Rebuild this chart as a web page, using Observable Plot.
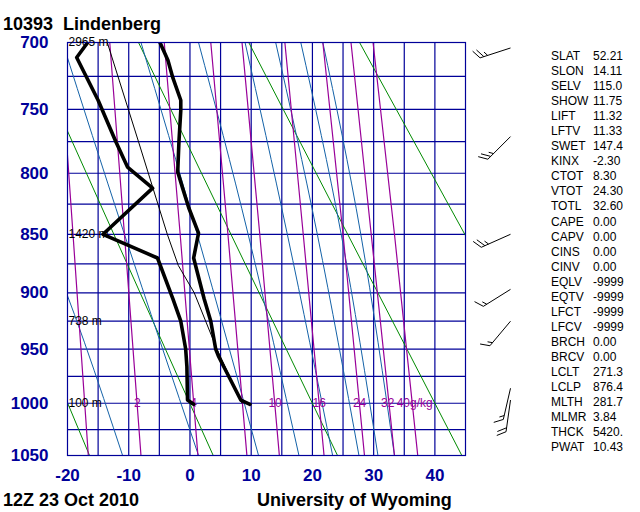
<!DOCTYPE html>
<html><head><meta charset="utf-8">
<script src="https://cdn.jsdelivr.net/npm/d3@7"></script>
<script src="https://cdn.jsdelivr.net/npm/@observablehq/plot@0.6"></script>
<style>
body{margin:0;background:#fff;}
#wrap{position:relative;width:640px;height:512px;overflow:hidden;font-family:"Liberation Sans",Arial,sans-serif;}
#wrap svg{position:absolute;left:0;top:0;}
.t{position:absolute;white-space:pre;font-weight:bold;color:#000;font-size:18px;line-height:18px;}
.idx{position:absolute;font-size:12px;line-height:15.04px;white-space:pre;color:#000;}
</style></head><body><div id="wrap"></div>
<script>
// ---------- data ----------
const stationTitle = "10393  Lindenberg";
const dateLabel = "12Z 23 Oct 2010";
const sourceLabel = "University of Wyoming";

const pressureTicks = [700, 750, 800, 850, 900, 950, 1000, 1050];
const tempTicks = [-20, -10, 0, 10, 20, 30, 40];

// observed temperature profile
const tempP = [1001, 997, 957, 950, 925, 905, 870, 849, 828, 812, 799, 775, 751, 743, 726, 713, 700];
const tempT = [9.8, 8.3, 4.7, 4.2, 3.4, 2.3, 0.6, 1.4, -0.2, -1.2, -2.0, -1.8, -1.5, -1.5, -2.8, -3.6, -4.9];
// observed dew point profile
const dewP = [1001, 997, 966, 950, 925, 905, 870, 850, 812, 795, 775, 743, 711, 700];
const dewT = [0.6, -0.4, -0.5, -0.7, -1.5, -2.8, -5.3, -14.2, -6.1, -10.2, -12.1, -15.0, -18.5, -16.7];
// lifted parcel path
const parcelP = [1000, 950, 900, 876.4, 850, 775, 700];
const parcelT = [8.5, 4.4, 0.7, -1.9, -3.7, -8.4, -13.5];

// geopotential height labels
const heightP = [700, 850, 925, 1000];
const heightText = ["2965 m", "1420 m", "738 m", "100 m"];

// dry adiabats (theta at 1000 hPa, degC) : T at 1050 and 700 hPa
const dryTheta = [-20, 0, 20, 40, 60];
const dryT1050 = [-16.4, 3.8, 24.1, 44.4, 64.7];
const dryT700 = [-44.6, -26.5, -8.4, 9.6, 27.7];

// saturated adiabats (theta-e, K) : T at 1050, 850, 700 hPa
const moistThetaE = [260, 280, 300, 320, 340, 360, 380, 400];
const moistT1050 = [-11.0, 1.4, 11.2, 17.8, 23.3, 27.6, 30.7, 33.4];
const moistT850 = [-24.0, -10.7, 1.2, 9.5, 15.9, 20.8, 24.7, 27.9];
const moistT700 = [-39.7, -20.8, -8.0, 1.4, 9.0, 14.0, 18.1, 21.7];

// mixing ratio lines (g/kg) : T at 1050, 850, 700 hPa
const mixRatio = [1, 2, 4, 7, 10, 16, 24, 32, 40];
const mixT1050 = [-16.6, -8.0, 1.3, 9.3, 14.6, 21.9, 28.5, 33.4, 37.2];
const mixT850 = [-19.1, -10.7, -1.6, 6.2, 11.4, 18.5, 25.0, 29.6, 33.4];
const mixT700 = [-21.3, -13.1, -4.2, 3.4, 8.5, 15.5, 21.7, 26.3, 29.9];
const mixLabelText = ["2", "4", "10", "16", "24", "32", "40g/kg"];
const mixLabelT = [-8.6, 0.6, 13.9, 21.1, 27.7, 32.3, 36.7];

// winds: pressure, direction (deg), speed (kt)
const windP = [704, 771, 850, 897, 925, 986, 997];
const windDir = [252, 225, 246, 238, 220, 193, 188];
const windSpd = [25, 25, 25, 15, 15, 15, 20];

// stability indices
const indexNames = ["SLAT","SLON","SELV","SHOW","LIFT","LFTV","SWET","KINX","CTOT","VTOT","TOTL","CAPE","CAPV","CINS","CINV","EQLV","EQTV","LFCT","LFCV","BRCH","BRCV","LCLT","LCLP","MLTH","MLMR","THCK","PWAT"];
const indexValues = ["52.21","14.11","115.0","11.75","11.32","11.33","147.4","-2.30","8.30","24.30","32.60","0.00","0.00","0.00","0.00","-9999","-9999","-9999","-9999","0.00","0.00","271.3","876.4","281.7","3.84","5420.","10.43"];

// ---------- build ----------
const navy = "#000099", blue = "#1462a8", green = "#008a00", purple = "#990099";
const xDef = {domain: [-20, 45], range: [67, 465]};
const yDef = {type: "pow", exponent: 0.286, domain: [700, 1050], range: [42, 455]};
const xs = Plot.scale({x: xDef});
const ys = Plot.scale({y: yDef});

const tempData = tempP.map((p, i) => ({p, t: tempT[i]}));
const dewData = dewP.map((p, i) => ({p, t: dewT[i]}));
const parcelData = parcelP.map((p, i) => ({p, t: parcelT[i]}));
const dryData = dryTheta.flatMap((id, i) => [{id, p: 1050, t: dryT1050[i]}, {id, p: 700, t: dryT700[i]}]);
const moistData = moistThetaE.flatMap((id, i) => [{id, p: 1050, t: moistT1050[i]}, {id, p: 850, t: moistT850[i]}, {id, p: 700, t: moistT700[i]}]);
const mixData = mixRatio.flatMap((id, i) => [{id, p: 1050, t: mixT1050[i]}, {id, p: 850, t: mixT850[i]}, {id, p: 700, t: mixT700[i]}]);
const mixLabels = mixLabelText.map((s, i) => ({s, t: mixLabelT[i], p: 1000}));
const heightLabels = heightP.map((p, i) => ({p, s: heightText[i]}));

// wind barbs: geometry in pixels, mapped back through the scales
const barbX = 510, barbLen = 32, featherLen = 10, featherGap = 4;
const barbSegs = [];
windP.forEach((p, i) => {
  const r = windDir[i] * Math.PI / 180;
  const ux = Math.sin(r), uy = -Math.cos(r);
  const nx = -uy, ny = ux;
  const fx = 0.5 * ux + 0.866 * nx, fy = 0.5 * uy + 0.866 * ny;
  const sx = barbX, sy = ys.apply(p);
  const tx = sx + barbLen * ux, ty = sy + barbLen * uy;
  const seg = (x1, y1, x2, y2) => barbSegs.push({x1: xs.invert(x1), y1: ys.invert(y1), x2: xs.invert(x2), y2: ys.invert(y2)});
  seg(sx, sy, tx, ty);
  const full = Math.floor(windSpd[i] / 10);
  const half = (windSpd[i] - full * 10) >= 5 ? 1 : 0;
  let k = 0;
  for (let j = 0; j < full; j++, k++) {
    const px = tx - k * featherGap * ux, py = ty - k * featherGap * uy;
    seg(px, py, px + featherLen * fx, py + featherLen * fy);
  }
  if (half) {
    if (k === 0) k = 1;
    const px = tx - k * featherGap * ux, py = ty - k * featherGap * uy;
    seg(px, py, px + featherLen / 2 * fx, py + featherLen / 2 * fy);
  }
});

const xGrid = d3.range(-15, 45, 5);
const yGrid = d3.range(725, 1050, 25);

const chart = Plot.plot({
  width: 640, height: 512,
  marginLeft: 67, marginRight: 175, marginTop: 42, marginBottom: 57,
  x: xDef, y: yDef,
  style: {fontFamily: "Liberation Sans, Arial, sans-serif", background: "white", overflow: "visible"},
  marks: [
    Plot.gridX(xGrid, {stroke: navy, strokeOpacity: 1, strokeWidth: 1.2}),
    Plot.gridY(yGrid, {stroke: navy, strokeOpacity: 1, strokeWidth: 1.2}),
    Plot.line(dryData, {x: "t", y: "p", z: "id", stroke: green, strokeWidth: 1, clip: true}),
    Plot.line(moistData, {x: "t", y: "p", z: "id", stroke: blue, strokeWidth: 1, curve: "natural", clip: true}),
    Plot.line(mixData, {x: "t", y: "p", z: "id", stroke: purple, strokeWidth: 1.2, curve: "natural", clip: true}),
    Plot.text(mixLabels, {x: "t", y: "p", text: "s", fill: purple, fontSize: 12}),
    Plot.line(parcelData, {x: "t", y: "p", stroke: "black", strokeWidth: 1, clip: true}),
    Plot.line(tempData, {x: "t", y: "p", stroke: "black", strokeWidth: 3.6, clip: true}),
    Plot.line(dewData, {x: "t", y: "p", stroke: "black", strokeWidth: 3.6, clip: true}),
    Plot.frame({stroke: navy, strokeWidth: 1.2}),
    Plot.text(heightLabels, {y: "p", text: "s", frameAnchor: "left", textAnchor: "start", dx: 1, fontSize: 12, fill: "black"}),
    Plot.link(barbSegs, {x1: "x1", y1: "y1", x2: "x2", y2: "y2", stroke: "black", strokeWidth: 1}),
    Plot.axisY(pressureTicks, {tickSize: 0, tickPadding: 19, fontSize: 17, fontWeight: "bold", color: navy, label: null, tickFormat: d => String(d)}),
    Plot.axisX(tempTicks, {tickSize: 0, tickPadding: 13, fontSize: 17, fontWeight: "bold", color: navy, label: null, tickFormat: d => String(d)})
  ]
});

const wrap = document.getElementById("wrap");
wrap.appendChild(chart);

function addText(cls, txt, left, top, extra) {
  const d = document.createElement("div");
  d.className = cls;
  d.textContent = txt;
  d.style.left = left + "px";
  d.style.top = top + "px";
  if (extra) Object.assign(d.style, extra);
  wrap.appendChild(d);
}
addText("t", stationTitle, 3, 15);
addText("t", dateLabel, 3, 491);
addText("t", sourceLabel, 257, 491);
addText("idx", indexNames.join("\n"), 551, 49);
addText("idx", indexValues.join("\n"), 593, 49);
</script></body></html>
